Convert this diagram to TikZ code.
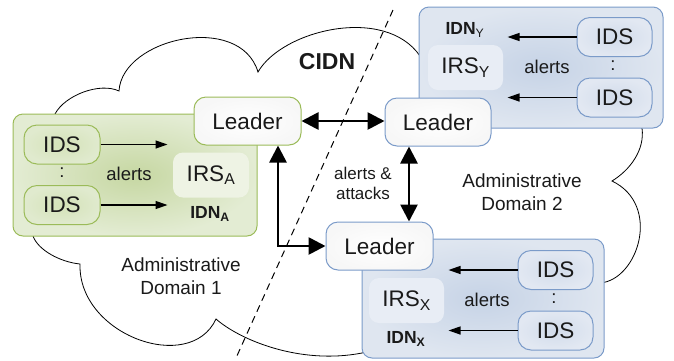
\documentclass[tikz,border=0pt]{standalone}
\usepackage{fontspec}
\setmainfont{Liberation Sans}
\usetikzlibrary{arrows.meta}
\definecolor{gbord}{HTML}{9BBB59}
\definecolor{gin}{HTML}{C6D7A2}
\definecolor{gout}{HTML}{E3ECD3}
\definecolor{gidsin}{HTML}{D4E2B8}
\definecolor{gidsout}{HTML}{E0EACE}
\definecolor{girs}{HTML}{EEF3E4}
\definecolor{bbord}{HTML}{7B9BC9}
\definecolor{bin}{HTML}{C6D3E6}
\definecolor{bout}{HTML}{DFE6F0}
\definecolor{bidsin}{HTML}{D2DCEB}
\definecolor{bidsout}{HTML}{E2E8F2}
\definecolor{birs}{HTML}{E8EDF5}
\definecolor{txt}{HTML}{1A1A1A}
\tikzset{
  cloudline/.style={draw=black, line width=0.8pt},
  greenbox/.style={draw=gbord, line width=1pt, rounded corners=10pt, shading=radial, inner color=gin, outer color=gout},
  bluebox/.style={draw=bbord, line width=1pt, rounded corners=10pt, shading=radial, inner color=bin, outer color=bout},
  leaderbox/.style={line width=1pt, rounded corners=12pt, shading=radial, inner color=white, outer color=white!97!black, minimum width=107pt, minimum height=48pt, font=\fontsize{22.5}{25}\selectfont, text=txt},
  gids/.style={draw=gbord, line width=1pt, rounded corners=13pt, shading=radial, inner color=gidsin, outer color=gidsout, minimum width=76pt, minimum height=39pt, font=\fontsize{22.5}{25}\selectfont, text=txt},
  bids/.style={draw=bbord, line width=1pt, rounded corners=13pt, shading=radial, inner color=bidsin, outer color=bidsout, minimum width=75pt, minimum height=39pt, font=\fontsize{22.5}{25}\selectfont, text=txt},
  irsbox/.style={rounded corners=10pt, minimum width=76pt, minimum height=45pt, font=\fontsize{22.5}{25}\selectfont, text=txt},
  idnlabel/.style={font=\bfseries\fontsize{17.5}{20}\selectfont, text=txt},
  lbl/.style={font=\fontsize{18.5}{22}\selectfont, text=txt},
  thinarrow/.style={-{Triangle[length=12pt,width=8pt]}, line width=1.3pt, black},
  bigarrow/.style={{Triangle[length=17pt,width=17pt]}-{Triangle[length=17pt,width=17pt]}, line width=2.7pt, black},
}
\begin{document}
\begin{tikzpicture}[x=1pt,y=-1pt]
\useasboundingbox (0,0) rectangle (674,360);

% cloud
\draw[cloudline] (33,236) .. controls (38,250) and (60,262) .. (80,264)
 .. controls (78,335) and (190,375) .. (216,319)
 .. controls (240,340) and (300,365) .. (362,353)
 -- (600,283)
 .. controls (638,280) and (662,205) .. (612,181)
 .. controls (630,170) and (645,150) .. (642,128)
 -- (420,56)
 .. controls (385,5) and (282,30) .. (258,72)
 .. controls (240,12) and (122,38) .. (119,91)
 .. controls (100,82) and (65,95) .. (55,114)
 -- cycle;

% dashed separator
\coordinate (dtop) at (393,10);
\coordinate (dbot) at (236,358);
\draw[dashed, dash pattern=on 7pt off 5pt, line width=1pt] (dtop) -- (dbot);

% domain A (green)
\node[greenbox, minimum width=244pt, minimum height=122pt] (boxA) at (135,175) {};
\node[gids] (idsA1) at (62,144.5) {IDS};
\node[gids] (idsA2) at (62,205) {IDS};
\node[lbl] (colA) at (62,173) {:};
\node[lbl] (alA) at (129,174) {alerts};
\node[irsbox, fill=girs] (irsA) at (211,175) {IRS\textsubscript{A}};
\node[idnlabel] (idnA) at (210,214) {IDN\textsubscript{A}};
\draw[thinarrow] (idsA1.east) -- ++(67,0);
\draw[thinarrow] (idsA2.east) -- ++(67,0);
\node[leaderbox, draw=gbord] (leaderA) at (247.5,121) {Leader};

% domain Y (blue, top right)
\node[bluebox, minimum width=244pt, minimum height=121pt] (boxY) at (541,67.5) {};
\node[bids] (idsY1) at (614.5,37) {IDS};
\node[bids] (idsY2) at (614.5,97.5) {IDS};
\node[lbl] (colY) at (613,66) {:};
\node[lbl] (alY) at (547,67) {alerts};
\node[irsbox, fill=birs, minimum width=75pt] (irsY) at (465.5,67.5) {IRS\textsubscript{Y}};
\node[idnlabel] (idnY) at (465,30) {IDN\textsubscript{\mdseries Y}};
\draw[thinarrow] (idsY1.west) -- ++(-69,0);
\draw[thinarrow] (idsY2.west) -- ++(-69,0);
\node[leaderbox, draw=bbord, minimum width=106pt] (leaderY) at (438,122) {Leader};

% domain X (blue, bottom right)
\node[bluebox, minimum width=242pt, minimum height=119pt] (boxX) at (483,298.5) {};
\node[bids] (idsX1) at (555.5,270) {IDS};
\node[bids] (idsX2) at (555.5,330.5) {IDS};
\node[lbl] (colX) at (554,299) {:};
\node[lbl] (alX) at (487,300) {alerts};
\node[irsbox, fill=birs, minimum width=75pt] (irsX) at (406.5,300.5) {IRS\textsubscript{X}};
\node[idnlabel] (idnX) at (406,339) {IDN\textsubscript{X}};
\draw[thinarrow] (idsX1.west) -- ++(-69,0);
\draw[thinarrow] (idsX2.west) -- ++(-69,0);
\node[leaderbox, draw=bbord] (leaderX) at (379.5,246) {Leader};

% leader connections
\draw[bigarrow] (leaderA.east) -- (leaderA.east -| leaderY.west);
\draw[bigarrow] ([xshift=-29pt]leaderY.south) -- ([xshift=-29pt]leaderY.south |- leaderX.north);
\draw[bigarrow] ([xshift=30.5pt]leaderA.south) |- (leaderX.west);

% labels
\node[font=\bfseries\fontsize{23}{26}\selectfont, text=txt] (cidn) at (327,62) {CIDN};
\node[font=\fontsize{17}{20}\selectfont, text=txt, align=center] (aa) at (363,183) {alerts \&\\attacks};
\node[lbl, align=center, font=\fontsize{19}{22.7}\selectfont] (ad1) at (181,276) {Administrative\\Domain 1};
\node[lbl, align=center, font=\fontsize{19}{22.7}\selectfont] (ad2) at (522,192) {Administrative\\Domain 2};
\end{tikzpicture}
\end{document}
